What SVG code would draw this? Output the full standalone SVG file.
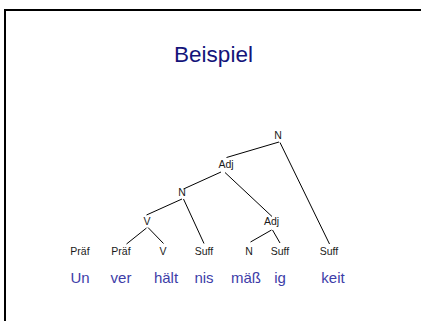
<svg xmlns="http://www.w3.org/2000/svg" width="421" height="321" viewBox="0 0 421 321">
<style>
.lbl{font-family:"Liberation Sans",Arial,sans-serif;font-size:10.5px;fill:#1a1a1a;text-anchor:middle}
.word{font-family:"Liberation Sans",Arial,sans-serif;font-size:15px;fill:#3d3da8;text-anchor:middle}
.title{font-family:"Liberation Sans",Arial,sans-serif;font-size:22.5px;fill:#14147a;text-anchor:middle}
.edge{stroke:#000;stroke-width:1;fill:none}
</style>
<rect x="0" y="0" width="421" height="321" fill="#fff"/>
<path d="M5 330 V10 H430" stroke="#000" stroke-width="2" fill="none"/>
<text class="title" x="213.5" y="62">Beispiel</text>
<g id="connectors">
<line class="edge" x1="279" y1="142" x2="226.5" y2="157.5"/>
<line class="edge" x1="280" y1="142.5" x2="329.5" y2="244"/>
<line class="edge" x1="221" y1="172" x2="183.5" y2="189"/>
<line class="edge" x1="225" y1="172.5" x2="272" y2="216.5"/>
<line class="edge" x1="182" y1="199" x2="146.5" y2="215"/>
<line class="edge" x1="183.5" y1="199" x2="204" y2="243.5"/>
<line class="edge" x1="146.5" y1="228" x2="126.5" y2="244"/>
<line class="edge" x1="148" y1="227.5" x2="163.5" y2="243.5"/>
<line class="edge" x1="271.5" y1="230" x2="250.5" y2="242"/>
<line class="edge" x1="272.5" y1="230" x2="280" y2="243"/>
</g>
<g id="n-top"><text class="lbl" x="278" y="139">N</text></g>
<g id="adj-1"><text class="lbl" x="226" y="168">Adj</text></g>
<g id="n-2"><text class="lbl" x="182" y="196">N</text></g>
<g id="v-1"><text class="lbl" x="147" y="225">V</text></g>
<g id="adj-2"><text class="lbl" x="271.5" y="225">Adj</text></g>
<g id="praef-0"><text class="lbl" x="80" y="255">Präf</text></g>
<g id="praef-1"><text class="lbl" x="121" y="255">Präf</text></g>
<g id="v-2"><text class="lbl" x="163" y="255">V</text></g>
<g id="suff-1"><text class="lbl" x="204" y="255">Suff</text></g>
<g id="n-3"><text class="lbl" x="249" y="255">N</text></g>
<g id="suff-2"><text class="lbl" x="280" y="255">Suff</text></g>
<g id="suff-3"><text class="lbl" x="329" y="255">Suff</text></g>
<g id="words">
<text class="word" x="80" y="283">Un</text>
<text class="word" x="121" y="283">ver</text>
<text class="word" x="166" y="283">hält</text>
<text class="word" x="204" y="283">nis</text>
<text class="word" x="246" y="283">mäß</text>
<text class="word" x="280" y="283">ig</text>
<text class="word" x="333" y="283">keit</text>
</g>
</svg>
